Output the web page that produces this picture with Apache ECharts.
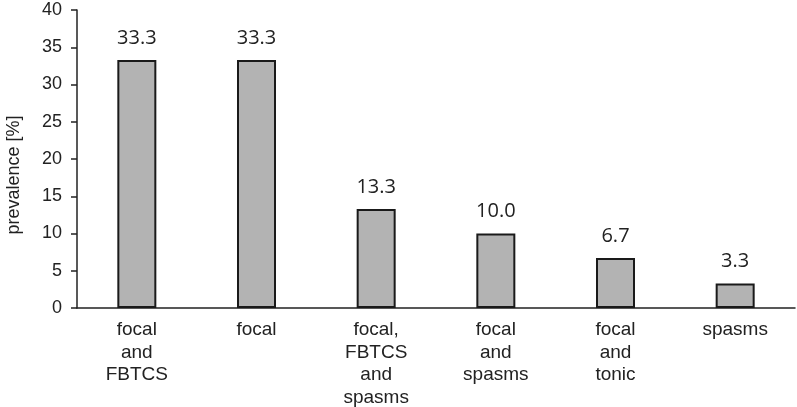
<!DOCTYPE html>
<html><head><meta charset="utf-8">
<script src="https://cdn.jsdelivr.net/npm/echarts@6/dist/echarts.min.js"></script>
<style>html,body{margin:0;padding:0;background:#fff}#c{width:797px;height:407px}</style>
</head><body><div id="c"></div>
<script>
const categories = ['focal\nand\nFBTCS', 'focal', 'focal,\nFBTCS\nand\nspasms', 'focal\nand\nspasms', 'focal\nand\ntonic', 'spasms'];
const values = [33.3, 33.3, 13.3, 10.0, 6.7, 3.3];
const yTicks = [0, 5, 10, 15, 20, 25, 30, 35, 40];

const chart = echarts.init(document.getElementById('c'));
chart.setOption({
  animation: false,
  grid: {left: 77, right: 2, top: 10, bottom: 99, outerBoundsMode: 'none', containLabel: false},
  xAxis: {
    type: 'category', data: categories,
    axisLine: {lineStyle: {color: '#222', width: 1.5}},
    axisTick: {alignWithLabel: true, length: 5, lineStyle: {color: '#222', width: 1.5}},
    axisLabel: {color: '#222', fontFamily: 'Liberation Sans', fontSize: 19, lineHeight: 22.5, margin: 11, interval: 0}
  },
  yAxis: {
    type: 'value', min: 0, max: 40, interval: 5,
    name: 'prevalence [%]', nameLocation: 'middle', nameGap: 54, nameRotate: 90,
    nameTextStyle: {color: '#222', fontFamily: 'Liberation Sans', fontSize: 18, padding: [0, 32, 0, 0]},
    axisLine: {show: true, lineStyle: {color: '#222', width: 1.5}},
    axisTick: {show: true, length: 6, lineStyle: {color: '#222', width: 1.5}},
    splitLine: {show: false},
    axisLabel: {color: '#222', fontFamily: 'Liberation Sans', fontSize: 18, margin: 15,
      formatter: v => yTicks.includes(v) ? String(v) : ''}
  },
  series: [{
    type: 'bar', data: values, barWidth: 39,
    itemStyle: {color: '#b3b3b3', borderColor: '#1a1a1a', borderWidth: 2},
    label: {show: true, position: 'top', distance: 12, color: '#222', fontFamily: 'Open Sans', fontSize: 20,
      formatter: p => p.value.toFixed(1)}
  }]
});
</script></body></html>
